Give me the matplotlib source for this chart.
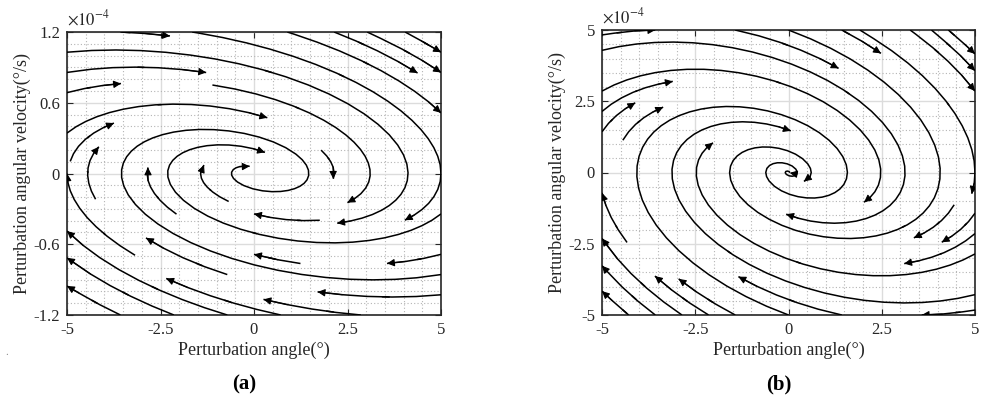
import numpy as np
import matplotlib
matplotlib.use("Agg")
import matplotlib.pyplot as plt
from matplotlib.patches import FancyArrowPatch
from matplotlib.ticker import MultipleLocator

plt.rcParams['font.family'] = ['Liberation Serif', 'DejaVu Serif']
plt.rcParams['mathtext.fontset'] = 'stix'

# ---- data ----
X_RANGE = [-5, 5]                 # perturbation angle (deg)
Y_RANGE_A = [-1.2, 1.2]           # angular velocity, x1e-4 deg/s
Y_RANGE_B = [-5, 5]
X_TICKS = [-5, -2.5, 0, 2.5, 5]
X_TICKLABELS = ['-5', '-2.5', '0', '2.5', '5']
Y_TICKS_A = [-1.2, -0.6, 0, 0.6, 1.2]
Y_TICKLABELS_A = ['-1.2', '-0.6', '0', '0.6', '1.2']
Y_TICKS_B = [-5, -2.5, 0, 2.5, 5]
Y_TICKLABELS_B = ['-5', '-2.5', '0', '2.5', '5']
# linearised perturbation dynamics in normalised coordinates:
#   dX/dt = Y ,  dY/dt = -K*X - C*Y
K_A, C_A = 0.40, 0.34
K_B, C_B = 0.70, 0.48
PANEL_LABELS = ['(a)', '(b)']
XLABEL = 'Perturbation angle(°)'
YLABEL = 'Perturbation angular velocity(°/s)'

W, H = 985, 403
fig = plt.figure(figsize=(W / 100, H / 100), dpi=100)


def ax_rect(l, r, t, b):
    return [l / W, 1 - b / H, (r - l) / W, (b - t) / H]


def panel(rect, yr, k, c, yticks, ylabels, yminor, label, lab_x):
    ax = fig.add_axes(rect)
    nx, ny = 120, 120
    xs = np.linspace(X_RANGE[0], X_RANGE[1], nx)
    ys = np.linspace(yr[0], yr[1], ny)
    XX, YY = np.meshgrid(xs, ys)
    xm, ym = X_RANGE[1], yr[1]
    Xn, Yn = XX / xm, YY / ym
    U = xm * Yn
    V = ym * (-k * Xn - c * Yn)
    sp = ax.streamplot(xs, ys, U, V, density=0.5, color='black',
                       linewidth=1.1, arrowstyle='-', broken_streamlines=True,
                       zorder=3)
    try:
        sp.arrows.remove()
    except Exception:
        pass
    ax.set_xlim(X_RANGE)
    ax.set_ylim(yr)
    fig.canvas.draw()
    trans = ax.transData
    for seg in sp.lines.get_segments():
        if len(seg) < 3:
            continue
        disp = trans.transform(seg)
        end = disp[-1]
        d = np.hypot(*(disp - end).T)
        idx = np.where(d > 7)[0]
        if len(idx) == 0:
            continue
        j = idx[-1]
        start = seg[j]
        arr = FancyArrowPatch(posA=tuple(start), posB=tuple(seg[-1]),
                              arrowstyle='-|>', mutation_scale=11,
                              color='black', lw=0.8, shrinkA=0, shrinkB=0,
                              zorder=4)
        ax.add_patch(arr)

    ax.set_xticks(X_TICKS)
    ax.set_xticklabels(X_TICKLABELS)
    ax.set_yticks(yticks)
    ax.set_yticklabels(ylabels)
    ax.xaxis.set_minor_locator(MultipleLocator(0.5))
    ax.yaxis.set_minor_locator(MultipleLocator(yminor))
    ax.grid(True, which='major', color='#dcdcdc', lw=1.0, ls='-', zorder=0)
    ax.grid(True, which='minor', color='#b4b4b4', lw=0.8, ls=(0, (1, 2)), zorder=0)
    ax.set_axisbelow(True)
    ax.tick_params(which='both', direction='in', top=True, right=True,
                   labelsize=12, pad=5, colors='#262626')
    ax.tick_params(which='minor', length=0)
    ax.tick_params(which='major', length=4)
    for s in ax.spines.values():
        s.set_color('#262626')
        s.set_linewidth(1.2)
    ax.set_xlabel(XLABEL, fontsize=13, color='#262626', labelpad=3)
    ax.set_ylabel(YLABEL, fontsize=13, color='#262626', labelpad=2)
    ax.text(0.0, 1.01, r'$\times10^{-4}$', transform=ax.transAxes,
            fontsize=12, ha='left', va='bottom', color='#262626')
    fig.text(lab_x / W, 1 - 384 / H, label, fontsize=15, fontweight='bold',
             ha='center', va='center')
    return ax


panel(ax_rect(67, 441, 32, 315), Y_RANGE_A, K_A, C_A, Y_TICKS_A,
      Y_TICKLABELS_A, 0.1, PANEL_LABELS[0], 244)
panel(ax_rect(602, 975, 30, 315), Y_RANGE_B, K_B, C_B, Y_TICKS_B,
      Y_TICKLABELS_B, 0.5, PANEL_LABELS[1], 779)
fig.text(5 / W, 1 - 355 / H, '.', fontsize=8, color='#888888')

fig.savefig('out.png', dpi=100)
